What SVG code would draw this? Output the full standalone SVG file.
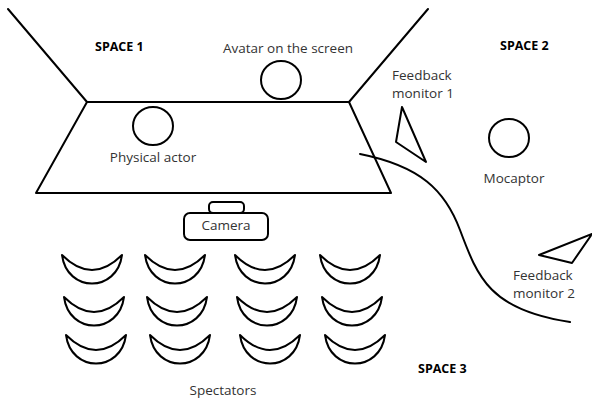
<svg xmlns="http://www.w3.org/2000/svg" width="592" height="403" viewBox="0 0 592 403">
<style>
.ln{fill:none;stroke:#000;stroke-width:2;stroke-linejoin:round;stroke-linecap:round}
.t{font-family:"Open Sans","Noto Sans",sans-serif;font-size:13.5px;fill:#333}
.b{font-family:"Open Sans","Noto Sans",sans-serif;font-size:12.5px;font-weight:bold;fill:#000}
</style>
<defs>
<path id="seat" d="M0,0 C5,38 55,38 60,0 Q30,30 0,0 Z" fill="#fff" stroke="#000" stroke-width="2" stroke-linejoin="round"/>
</defs>
<rect width="592" height="403" fill="#fff"/>
<g id="stage">
<path class="ln" d="M8,9 L87,102 M428,9 L349,102"/>
<path class="ln" d="M87,102 L349,102 L391,193 L36,193 Z"/>
</g>
<g id="labels">
<text class="b" x="95" y="51">SPACE 1</text>
<text class="b" x="500" y="50">SPACE 2</text>
<text class="b" x="418" y="373">SPACE 3</text>
</g>
<g id="avatar">
<ellipse class="ln" cx="281" cy="80" rx="20" ry="19"/>
<text class="t" x="288" y="53" text-anchor="middle">Avatar on the screen</text>
</g>
<g id="actor">
<ellipse class="ln" cx="153" cy="126" rx="20" ry="19"/>
<text class="t" x="153" y="162" text-anchor="middle">Physical actor</text>
</g>
<g id="monitor1">
<path class="ln" d="M402,107 L396,142 L426,162 Z"/>
<text class="t" x="392" y="80">Feedback</text>
<text class="t" x="392" y="98">monitor 1</text>
</g>
<g id="mocaptor">
<ellipse class="ln" cx="509" cy="138" rx="20" ry="19"/>
<text class="t" x="514" y="183" text-anchor="middle">Mocaptor</text>
</g>
<g id="monitor2">
<path class="ln" d="M592,234 L539,255 L572,263 Z"/>
<text class="t" x="513" y="280">Feedback</text>
<text class="t" x="513" y="298">monitor 2</text>
</g>
<g id="camera">
<rect class="ln" x="209" y="202" width="35" height="11" rx="4"/>
<rect class="ln" x="184" y="213" width="84" height="27" rx="6" fill="#fff"/>
<text class="t" x="226" y="230" text-anchor="middle">Camera</text>
</g>
<g id="spectators">
<use href="#seat" x="62" y="255"/>
<use href="#seat" x="145" y="255"/>
<use href="#seat" x="235" y="255"/>
<use href="#seat" x="320" y="255"/>
<use href="#seat" x="64" y="297"/>
<use href="#seat" x="147" y="297"/>
<use href="#seat" x="237" y="297"/>
<use href="#seat" x="322" y="297"/>
<use href="#seat" x="66" y="335"/>
<use href="#seat" x="150" y="335"/>
<use href="#seat" x="240" y="335"/>
<use href="#seat" x="325" y="335"/>
<text class="t" x="223" y="395" text-anchor="middle">Spectators</text>
</g>
<g id="connectors">
<path class="ln" d="M360,154 C420,166 445,190 460,230 C478,278 490,310 570,322"/>
</g>
</svg>
